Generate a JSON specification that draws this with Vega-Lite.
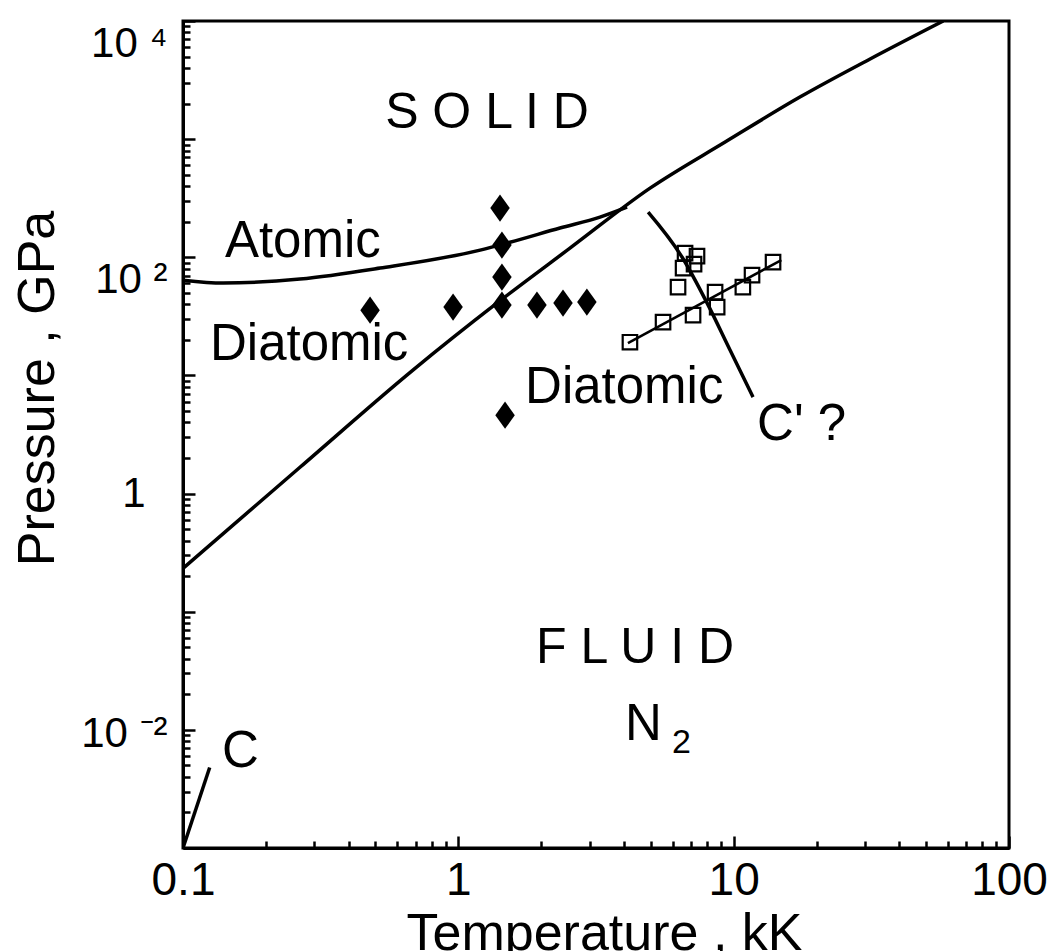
{
  "$schema": "https://vega.github.io/schema/vega-lite/v6.json",
  "autosize": "none",
  "width": 826,
  "height": 827,
  "padding": {"left": 183, "top": 21, "right": 50, "bottom": 103},
  "background": "white",
  "config": {
    "view": {"stroke": "black", "strokeWidth": 3},
    "font": "Liberation Sans",
    "axis": {"grid": false, "domainColor": "black", "domainWidth": 3, "tickColor": "black", "tickWidth": 2.5, "labelColor": "black", "titleColor": "black", "labelFont": "Liberation Sans", "titleFont": "Liberation Sans", "titleFontWeight": "normal"}
  },
  "datasets": {
    "curves": [
      {"curve": "melting", "ord": 1, "T": 0.1, "P": 0.233},
      {"curve": "melting", "ord": 2, "T": 0.266, "P": 1.67},
      {"curve": "melting", "ord": 3, "T": 0.684, "P": 11.1},
      {"curve": "melting", "ord": 4, "T": 1.38, "P": 40.9},
      {"curve": "melting", "ord": 5, "T": 2.55, "P": 120},
      {"curve": "melting", "ord": 6, "T": 4.97, "P": 385},
      {"curve": "melting", "ord": 7, "T": 9.31, "P": 945},
      {"curve": "melting", "ord": 8, "T": 17.4, "P": 2270},
      {"curve": "melting", "ord": 9, "T": 31.3, "P": 4770},
      {"curve": "melting", "ord": 10, "T": 57.7, "P": 10000},
      {"curve": "atomic", "ord": 1, "T": 0.1, "P": 64},
      {"curve": "atomic", "ord": 2, "T": 0.14, "P": 60.5},
      {"curve": "atomic", "ord": 3, "T": 0.266, "P": 65.4},
      {"curve": "atomic", "ord": 4, "T": 0.52, "P": 81},
      {"curve": "atomic", "ord": 5, "T": 1.2, "P": 115},
      {"curve": "atomic", "ord": 6, "T": 1.54, "P": 134},
      {"curve": "atomic", "ord": 7, "T": 2.34, "P": 177},
      {"curve": "atomic", "ord": 8, "T": 3.27, "P": 219},
      {"curve": "atomic", "ord": 9, "T": 4.1, "P": 266},
      {"curve": "C", "ord": 1, "T": 0.1, "P": 0.001},
      {"curve": "C", "ord": 2, "T": 0.125, "P": 0.0048},
      {"curve": "Cprime", "ord": 1, "T": 4.89, "P": 241},
      {"curve": "Cprime", "ord": 2, "T": 6.5, "P": 100},
      {"curve": "Cprime", "ord": 3, "T": 8.01, "P": 40.9},
      {"curve": "Cprime", "ord": 4, "T": 9.7, "P": 16.4},
      {"curve": "Cprime", "ord": 5, "T": 11.76, "P": 6.55}
    ],
    "sqline": [
      {"ord": 1, "T": 4.13, "P": 18.8},
      {"ord": 2, "T": 14.9, "P": 94.7}
    ],
    "diamonds": [
      {"T": 0.478, "P": 35.7},
      {"T": 0.957, "P": 37.9},
      {"T": 1.417, "P": 261},
      {"T": 1.44, "P": 127},
      {"T": 1.44, "P": 68},
      {"T": 1.44, "P": 39.4},
      {"T": 1.93, "P": 39.4},
      {"T": 2.4, "P": 41},
      {"T": 2.93, "P": 41.8},
      {"T": 1.478, "P": 4.61}
    ],
    "squares": [
      {"T": 4.2, "P": 19.1},
      {"T": 5.54, "P": 28.3},
      {"T": 7.12, "P": 32.4},
      {"T": 8.71, "P": 37.9},
      {"T": 8.56, "P": 50.7},
      {"T": 10.8, "P": 56},
      {"T": 11.66, "P": 70.7},
      {"T": 13.9, "P": 91},
      {"T": 6.66, "P": 108.6},
      {"T": 7.36, "P": 102.4},
      {"T": 6.55, "P": 81},
      {"T": 7.18, "P": 87.6},
      {"T": 6.28, "P": 56}
    ],
    "labels": [
      {"text": "Atomic", "T": 0.142, "P": 100.4},
      {"text": "Diatomic", "T": 0.1253, "P": 13.5},
      {"text": "Diatomic", "T": 1.747, "P": 5.83},
      {"text": "C' ?", "T": 12.16, "P": 2.83},
      {"text": "N", "T": 4.03, "P": 0.00817},
      {"text": "C", "T": 0.1386, "P": 0.00482}
    ],
    "regions": [
      {"text": "S O L I D", "T": 1.271, "P": 1242},
      {"text": "F L U I D", "T": 4.385, "P": 0.0366}
    ],
    "subs": [
      {"text": "2", "T": 5.97, "P": 0.00634}
    ]
  },
  "encoding": {
    "x": {"field": "T", "type": "quantitative",
      "scale": {"type": "log", "domain": [0.1, 100], "nice": false},
      "axis": {
        "title": "Temperature ,  kK", "titleFontSize": 52, "titleBaseline": "alphabetic", "titleX": 421, "titleY": 101,
        "values": [0.1,0.2,0.3,0.4,0.5,0.6,0.7,0.8,0.9,1,2,3,4,5,6,7,8,9,10,20,30,40,50,60,70,80,90,100],
        "labelExpr": "datum.value == 0.1 ? '0.1' : datum.value == 1 ? '1' : datum.value == 10 ? '10' : datum.value == 100 ? '100' : ''",
        "labelFontSize": 46, "labelPadding": 22, "labelFlush": false, "labelOverlap": false, "labelBound": false,
        "tickSize": {"condition": {"test": "abs(log(datum.value)/LN10 - round(log(datum.value)/LN10)) < 0.001", "value": -12}, "value": -7}
      }},
    "y": {"field": "P", "type": "quantitative",
      "scale": {"type": "log", "domain": [0.001, 10000], "nice": false},
      "axis": {
        "title": "Pressure , GPa", "titleFontSize": 52, "titleBaseline": "alphabetic", "titleX": -130, "titleY": 367,
        "values": [0.001,0.002,0.003,0.004,0.005,0.006,0.007,0.008,0.009,0.01,0.02,0.03,0.04,0.05,0.06,0.07,0.08,0.09,0.1,0.2,0.3,0.4,0.5,0.6,0.7,0.8,0.9,1,2,3,4,5,6,7,8,9,10,20,30,40,50,60,70,80,90,100,200,300,400,500,600,700,800,900,1000,2000,3000,4000,5000,6000,7000,8000,9000,10000],
        "labelExpr": "datum.value == 10000 ? '10 ⁴' : datum.value == 100 ? '10 ²' : datum.value == 1 ? '1' : datum.value == 0.01 ? '10 ⁻²' : ''",
        "labelFontSize": 42, "labelFlush": false, "labelOverlap": false, "labelBound": false, "labelBaseline": "middle",
        "labelPadding": {"condition": {"test": "datum.value == 1", "value": 50}, "value": 28},
        "labelOffset": {"condition": [{"test": "datum.value == 1", "value": 0}, {"test": "datum.value == 0.01", "value": 4}], "value": 22},
        "tickSize": {"condition": {"test": "abs(log(datum.value)/LN10 - round(log(datum.value)/LN10)) < 0.001", "value": -12}, "value": -7}
      }}
  },
  "layer": [
    {"data": {"name": "curves"}, "mark": {"type": "line", "color": "black", "strokeWidth": 3.5, "interpolate": "monotone", "clip": true},
      "encoding": {"detail": {"field": "curve"}, "order": {"field": "ord", "type": "quantitative"}}},
    {"data": {"name": "sqline"}, "mark": {"type": "line", "color": "black", "strokeWidth": 2.5, "clip": true},
      "encoding": {"order": {"field": "ord", "type": "quantitative"}}},
    {"data": {"name": "diamonds"}, "mark": {"type": "point", "shape": "M0,-1.4L1,0L0,1.4L-1,0Z", "filled": true, "color": "black", "size": 380, "opacity": 1}},
    {"data": {"name": "squares"}, "mark": {"type": "point", "shape": "square", "filled": false, "color": "black", "strokeWidth": 2.2, "size": 210, "opacity": 1}},
    {"data": {"name": "labels"}, "mark": {"type": "text", "align": "left", "baseline": "alphabetic", "fontSize": 51, "color": "black", "font": "Liberation Sans"},
      "encoding": {"text": {"field": "text"}}},
    {"data": {"name": "regions"}, "mark": {"type": "text", "align": "center", "baseline": "alphabetic", "fontSize": 50, "color": "black", "font": "Liberation Sans"},
      "encoding": {"text": {"field": "text"}}},
    {"data": {"name": "subs"}, "mark": {"type": "text", "align": "left", "baseline": "alphabetic", "fontSize": 34, "color": "black", "font": "Liberation Sans"},
      "encoding": {"text": {"field": "text"}}}
  ]
}
